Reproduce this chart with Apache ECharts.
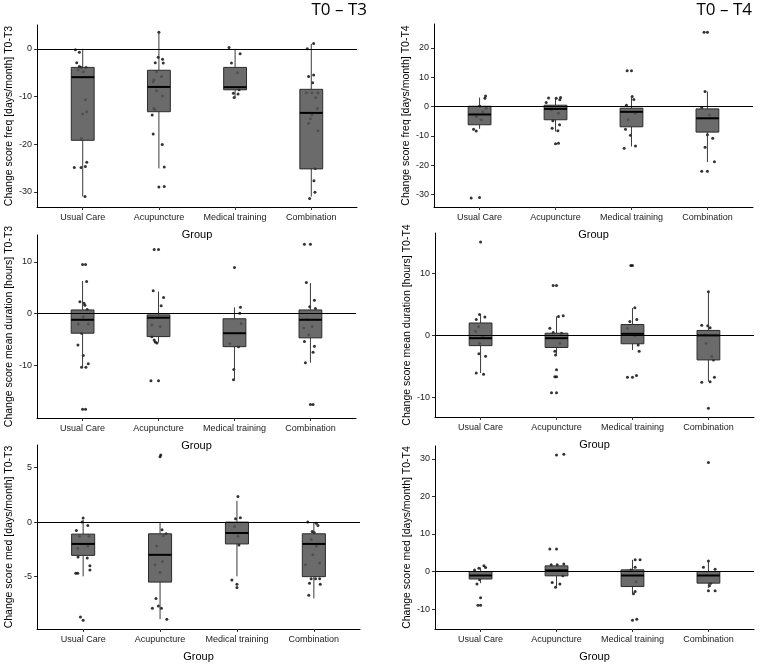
<!DOCTYPE html>
<html><head><meta charset="utf-8">
<script src="https://cdn.jsdelivr.net/npm/echarts@6/dist/echarts.min.js"></script>
<style>html,body{margin:0;padding:0;background:#fff}#c{width:761px;height:666px}</style>
</head><body><div id="c"></div>
<script>
const groups = ['Usual Care', 'Acupuncture', 'Medical training', 'Combination'];
const groupTicks = [1, 2, 3, 4];
const titles = ['T0 – T3', 'T0 – T4'];

// Box stats per group: [lower whisker, Q1, median, Q3, upper whisker]
// Outliers per group; jittered points per group as [x jitter (group units), value]

// --- freq T0-T3 ---
const freqT3Name = 'Change score freq [days/month] T0-T3';
const freqT3Ticks = [-30, -20, -10, 0];
const freqT3Range = [-33.2, 5.0];
const freqT3Box = [[-31.0, -19.2, -5.95, -3.9, 0], [-25.1, -13.2, -8.0, -4.5, 3.5], [-10.4, -8.6, -8.05, -3.9, 0], [-31.0, -25.2, -13.45, -8.5, 1.05]];
const freqT3Out = [[], [-29.0], [], []];
const freqT3Pts = [
  [[-0.096,-0.2],[-0.044,-0.7],[-0.079,-2.9],[-0.044,-3.7],[-0.022,-3.9],[0.044,-3.9],[-0.061,-4.4],[0.009,-4.8],[0.035,-10.7],[0.053,-13.2],[0,-13.7],[-0.018,-18.8],[-0.11,-24.9],[-0.022,-24.9],[0.053,-23.8],[0.035,-24.7],[0.03,-31.0]],
  [[0,3.5],[-0.009,-1.75],[0.048,-2.2],[-0.048,-2.9],[0.057,-3.0],[-0.031,-4.8],[0.035,-5.8],[-0.066,-6.5],[-0.075,-6.9],[-0.031,-8.8],[0.048,-9.9],[-0.066,-12.5],[-0.053,-12.8],[-0.088,-13.9],[-0.075,-17.9],[0.044,-20.1],[0.07,-24.8],[0.07,-28.9]],
  [[-0.079,0.3],[0.066,-1.05],[-0.048,-3.0],[0.031,-5.0],[0.053,-8.6],[-0.022,-9.3],[0.039,-9.5],[-0.013,-10.2]],
  [[-0.053,0],[0.031,1.1],[-0.035,-5.8],[0.031,-5.5],[0.018,-7.1],[-0.066,-9.2],[0.009,-9.2],[0.088,-9.2],[0.057,-10.2],[0.079,-12.5],[0.009,-13.9],[-0.013,-14.7],[-0.035,-15.6],[0.088,-17.2],[0.053,-25.1],[0.035,-27.7],[0.048,-30.1],[-0.022,-31.4]]
];

// --- freq T0-T4 ---
const freqT4Name = 'Change score freq [days/month] T0-T4';
const freqT4Ticks = [-30, -20, -10, 0, 10, 20];
const freqT4Range = [-34.2, 28.1];
const freqT4Box = [[-7.6, -6.2, -2.7, 0.1, 3.05], [-8.5, -4.5, -0.8, 0.45, 3.05], [-13.6, -6.9, -1.8, -0.55, 3.4], [-18.9, -8.7, -4.0, -0.8, 5.1]];
const freqT4Out = [[-31.0], [-12.7], [12.2], [25.3, -22.0]];
const freqT4Pts = [
  [[0.079,3.6],[0.07,2.8],[0,0.2],[0.088,-0.6],[0.044,-1.9],[-0.044,-3.4],[0.022,-4.5],[-0.079,-7.7],[-0.044,-8.3],[-0.11,-31.1]],
  [[-0.092,2.95],[0.009,2.8],[0.066,3.1],[0.057,2.3],[-0.123,1.4],[-0.057,-1.1],[0.039,-2.3],[-0.035,-4.8],[0.053,-6.2],[-0.044,-7.4],[0.031,-8.2],[0.039,-12.5]],
  [[-0.057,12.2],[0.009,3.4],[0.031,2.4],[-0.066,0.45],[0.048,-2.3],[-0.044,-4.5],[-0.079,-7.7],[-0.013,-9.75],[-0.096,-14.2],[0.053,-13.4]],
  [[-0.044,25.3],[-0.031,5.1],[-0.075,-0.35],[0.026,-2.9],[-0.096,-4.0],[0,-9.6],[0.07,-10.8],[-0.031,-13.9],[0.092,-18.8],[-0.075,-22.0]]
];

// --- mean duration T0-T3 ---
const durT3Name = 'Change score mean duration [hours] T0-T3';
const durT3Ticks = [-10, 0, 10];
const durT3Range = [-20.2, 15.2];
const durT3Box = [[-10.4, -3.8, -1.2, 0.7, 6.3], [-5.6, -4.45, -0.8, -0.25, 4.25], [-12.8, -6.4, -3.8, -1.0, 1.2], [-9.5, -4.7, -1.2, 0.7, 5.9]];
const durT3Out = [[9.5, -18.5], [12.4, -13.0], [8.9], [13.4, -17.6]];
const durT3Pts = [
  [[0.039,9.5],[0.053,6.2],[-0.035,2.3],[0.018,2.0],[0.031,1.6],[0.061,0.8],[0.009,-0.6],[-0.057,-2.0],[0.075,-2.0],[-0.013,-3.8],[-0.061,-6.1],[0.009,-8.1],[-0.013,-10.4],[0.044,-10.4],[0.075,-9.7],[0.039,-18.5]],
  [[-0.057,12.4],[-0.07,4.4],[0.066,3.1],[0.035,1.5],[-0.088,-2.2],[0.022,-2.5],[-0.088,-4.5],[-0.057,-5.1],[-0.044,-5.5],[-0.022,-5.7],[-0.1,-13.0]],
  [[0.079,1.2],[0.07,0.05],[0.088,-1.9],[-0.061,-5.8],[0.053,-6.4],[-0.009,-10.8],[-0.013,-12.8]],
  [[-0.079,13.4],[-0.053,6.0],[0.053,2.6],[-0.009,1.3],[0.066,1.0],[-0.044,-1.1],[0.022,-2.5],[-0.088,-2.8],[-0.022,-4.1],[-0.079,-5.4],[0.053,-6.3],[0.035,-7.5],[-0.066,-9.5],[0.035,-17.6]]
];

// --- mean duration T0-T4 ---
const durT4Name = 'Change score mean duration [hours] T0-T4';
const durT4Ticks = [-10, 0, 10];
const durT4Range = [-13.2, 16.45];
const durT4Box = [[-6.1, -1.7, -0.5, 1.95, 3.3], [-3.2, -2.0, -0.5, 0.3, 3.0], [-2.4, -1.4, 0.2, 1.7, 4.35], [-7.5, -4.0, -0.05, 0.75, 7.05]];
const durT4Out = [[15.0], [8.0, -5.6, -6.7, -9.3], [11.2, -6.8], [-11.8]];
const durT4Pts = [
  [[-0.013,3.3],[0.057,2.9],[-0.057,2.5],[-0.026,1.4],[-0.066,0.6],[0.031,-0.2],[-0.013,-1.3],[-0.022,-3.0],[0.066,-3.4],[-0.057,-6.1],[0.039,-6.3]],
  [[-0.044,8.0],[0.026,3.0],[0.088,3.1],[-0.088,1.1],[-0.044,0.4],[0.066,0.3],[0.044,-1.3],[-0.022,-2.6],[-0.013,-3.2],[-0.022,-6.7],[-0.066,-9.3]],
  [[-0.022,11.2],[0.031,4.4],[-0.035,2.2],[0.057,2.5],[-0.066,1.1],[0.035,-0.1],[0.075,-1.6],[0.088,-2.6],[-0.066,-6.8],[0.053,-6.5]],
  [[0,7.0],[-0.088,1.6],[-0.009,1.5],[0.022,1.2],[-0.044,0.05],[-0.031,-1.3],[0.044,-3.4],[0.066,-4.0],[-0.088,-7.6],[0.022,-7.5],[0.079,-6.8]]
];

// --- med T0-T3 ---
const medT3Name = 'Change score med [days/month] T0-T3';
const medT3Ticks = [-5, 0, 5];
const medT3Range = [-9.8, 7.07];
const medT3Box = [[-4.97, -3.05, -2.0, -1.1, 0.2], [-8.9, -5.5, -3.0, -1.07, 0], [-4.97, -2.0, -1.0, 0, 1.95], [-7.0, -5.0, -2.0, -1.07, 0]];
const medT3Out = [[-9.0], [6.0], [-6.0], []];
const medT3Pts = [
  [[0,0.37],[-0.013,0],[0.061,-0.3],[-0.088,-0.76],[0.075,-1.3],[-0.048,-1.3],[0.061,-2.2],[-0.07,-2.4],[-0.066,-3.2],[0.053,-3.3],[0.088,-4.0],[0.088,-4.4],[-0.096,-4.7],[-0.07,-4.7],[-0.035,-8.7]],
  [[0.009,6.16],[0.026,-0.7],[0.079,-1.07],[0.044,-1.25],[-0.044,-2.2],[0.031,-3.6],[-0.066,-3.9],[0,-4.6],[-0.053,-7.0],[-0.1,-7.9],[-0.022,-7.7],[0.018,-7.9],[0.088,-8.9]],
  [[0.013,2.35],[-0.018,0.3],[0.044,0.4],[-0.031,-0.4],[0.013,-1.3],[0.026,-2.1],[-0.066,-5.3],[0,-5.7]],
  [[-0.079,0],[0.031,-0.1],[0.053,-0.3],[-0.022,-0.85],[0.004,-0.95],[-0.035,-1.6],[0.031,-2.2],[-0.013,-3.0],[-0.11,-3.9],[0.075,-3.75],[-0.035,-5.2],[0.022,-5.2],[0.075,-5.2],[-0.057,-5.6],[0.083,-5.7],[-0.066,-6.7]]
];

// --- med T0-T4 ---
const medT4Name = 'Change score med [days/month] T0-T4';
const medT4Ticks = [-10, 0, 10, 20, 30];
const medT4Range = [-15.3, 33.4];
const medT4Box = [[-3.1, -2.0, -1.06, 0, 1.06], [-4.2, -1.15, 0.3, 1.5, 1.95], [-5.9, -4.0, -1.06, 0.44, 3.1], [-4.4, -3.1, -1.06, 0, 2.8]];
const medT4Out = [[-7.0, -9.0], [31.0, 6.0], [-13.0], [29.0]];
const medT4Pts = [
  [[-0.079,0.4],[-0.022,0.9],[0.044,1.5],[0.066,1.06],[-0.013,-2.2],[-0.048,-3.3],[-0.035,-9.0]],
  [[0.096,31.2],[-0.088,6.0],[-0.07,1.8],[0.009,1.8],[0.096,2.0],[0.035,0.4],[0.083,-1.1],[-0.057,-2.9],[0.044,-3.3],[-0.013,-4.2]],
  [[0.035,3.1],[0.1,3.1],[-0.022,0.4],[0.035,1.1],[0.048,-2.7],[0.035,-5.3],[0.013,-5.9],[0.057,-12.7]],
  [[0,2.8],[-0.066,1.15],[0.088,0.6],[0.031,-3.1],[0.013,-3.8],[0,-5.1],[0.088,-5.1]]
];

const panels = [
  {name: freqT3Name, ticks: freqT3Ticks, range: freqT3Range, box: freqT3Box, out: freqT3Out, pts: freqT3Pts, grid: {left: 37, top: 25, width: 320, height: 182}},
  {name: freqT4Name, ticks: freqT4Ticks, range: freqT4Range, box: freqT4Box, out: freqT4Out, pts: freqT4Pts, grid: {left: 434, top: 24, width: 319, height: 183}},
  {name: durT3Name, ticks: durT3Ticks, range: durT3Range, box: durT3Box, out: durT3Out, pts: durT3Pts, grid: {left: 37, top: 235, width: 319, height: 183}},
  {name: durT4Name, ticks: durT4Ticks, range: durT4Range, box: durT4Box, out: durT4Out, pts: durT4Pts, grid: {left: 435, top: 233, width: 319, height: 184}},
  {name: medT3Name, ticks: medT3Ticks, range: medT3Range, box: medT3Box, out: medT3Out, pts: medT3Pts, grid: {left: 37, top: 445, width: 323, height: 184}},
  {name: medT4Name, ticks: medT4Ticks, range: medT4Range, box: medT4Box, out: medT4Out, pts: medT4Pts, grid: {left: 435, top: 446, width: 319, height: 183}}
];

const BOX_W = 0.3;
const FONT = 'Liberation Sans, Arial, sans-serif';

function renderBox(params, api) {
  const x = api.value(0);
  const lo = api.coord([x, api.value(1)]);
  const q1 = api.coord([x, api.value(2)]);
  const med = api.coord([x, api.value(3)]);
  const q3 = api.coord([x, api.value(4)]);
  const hi = api.coord([x, api.value(5)]);
  const w = api.size([BOX_W, 0])[0];
  return {
    type: 'group',
    children: [
      {type: 'line', shape: {x1: lo[0], y1: lo[1], x2: q1[0], y2: q1[1]}, style: {stroke: '#3a3a3a', lineWidth: 1}},
      {type: 'line', shape: {x1: q3[0], y1: q3[1], x2: hi[0], y2: hi[1]}, style: {stroke: '#3a3a3a', lineWidth: 1}},
      {type: 'rect', shape: {x: q3[0] - w / 2, y: q3[1], width: w, height: q1[1] - q3[1]}, style: {fill: 'rgba(85,85,85,0.87)', stroke: '#2b2b2b', lineWidth: 1}},
      {type: 'line', shape: {x1: med[0] - w / 2, y1: med[1], x2: med[0] + w / 2, y2: med[1]}, style: {stroke: '#000', lineWidth: 2}}
    ]
  };
}

const grid = [], xAxis = [], yAxis = [], series = [];
panels.forEach((p, i) => {
  grid.push(Object.assign({containLabel: false}, p.grid));
  xAxis.push({
    gridIndex: i, type: 'value', min: 0.4, max: 4.6,
    name: 'Group', nameLocation: 'middle', nameGap: 22,
    nameTextStyle: {fontSize: 11, color: '#000', fontFamily: FONT},
    axisLine: {show: true, onZero: false, lineStyle: {color: '#000', width: 1}},
    axisTick: {show: true, customValues: groupTicks, length: 3, lineStyle: {color: '#333'}},
    axisLabel: {show: true, customValues: groupTicks, formatter: v => groups[Math.round(v) - 1], fontSize: 9, color: '#222', margin: 6, fontFamily: FONT},
    splitLine: {show: false}
  });
  yAxis.push({
    gridIndex: i, type: 'value', min: p.range[0], max: p.range[1],
    name: p.name, nameLocation: 'middle', nameGap: 22,
    nameTextStyle: {fontSize: 10.5, color: '#000', fontFamily: FONT},
    axisLine: {show: true, onZero: false, lineStyle: {color: '#000', width: 1}},
    axisTick: {show: true, customValues: p.ticks, length: 3, lineStyle: {color: '#333'}},
    axisLabel: {show: true, customValues: p.ticks, fontSize: 9, color: '#222', margin: 5, fontFamily: FONT},
    splitLine: {show: false}
  });
  const jitter = [];
  p.pts.forEach((arr, gi) => arr.forEach(d => jitter.push([groupTicks[gi] + d[0], d[1]])));
  series.push({type: 'scatter', xAxisIndex: i, yAxisIndex: i, data: jitter, symbolSize: 3, itemStyle: {color: '#000'}, silent: true, z: 2});
  series.push({type: 'custom', xAxisIndex: i, yAxisIndex: i, renderItem: renderBox,
    data: p.box.map((b, gi) => [groupTicks[gi]].concat(b)),
    encode: {x: 0, y: [1, 2, 3, 4, 5]}, silent: true, z: 3});
  const outs = [];
  p.out.forEach((arr, gi) => arr.forEach(v => outs.push([groupTicks[gi], v])));
  series.push({type: 'scatter', xAxisIndex: i, yAxisIndex: i, data: outs, symbolSize: 3, itemStyle: {color: '#000'}, silent: true, z: 4,
    markLine: {silent: true, symbol: 'none', label: {show: false}, lineStyle: {color: '#000', width: 1, type: 'solid'}, data: [{yAxis: 0}], animation: false}});
});

const chart = echarts.init(document.getElementById('c'), null, {renderer: 'canvas'});
chart.setOption({
  animation: false,
  backgroundColor: '#fff',
  title: [
    {text: titles[0], right: 394, top: 2, padding: 0, textStyle: {fontSize: 17, fontWeight: 'normal', color: '#000', fontFamily: 'Open Sans, Noto Sans, sans-serif'}},
    {text: titles[1], right: 9, top: 2, padding: 0, textStyle: {fontSize: 17, fontWeight: 'normal', color: '#000', fontFamily: 'Open Sans, Noto Sans, sans-serif'}}
  ],
  grid, xAxis, yAxis, series
});
</script></body></html>
